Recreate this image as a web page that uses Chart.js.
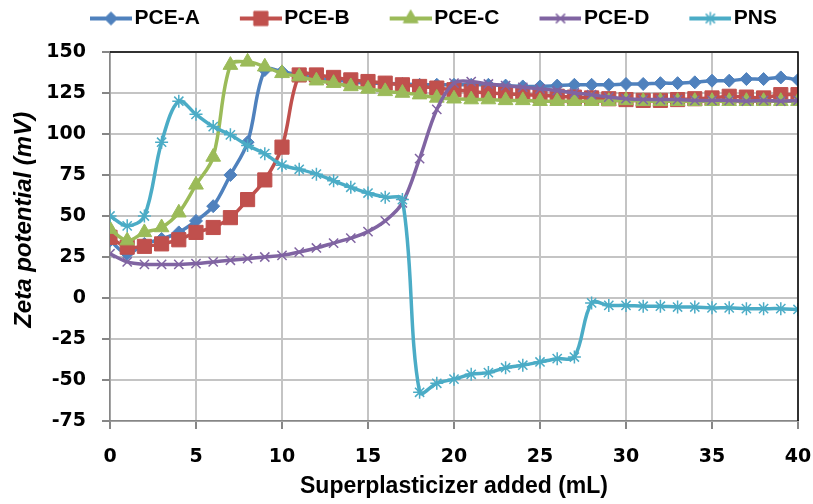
<!DOCTYPE html>
<html>
<head>
<meta charset="utf-8">
<script src="https://cdn.jsdelivr.net/npm/chart.js@4/dist/chart.umd.min.js"></script>
<style>
  body { margin: 0; background: #fff; }
  #wrap { width: 813px; height: 504px; position: relative; }
</style>
</head>
<body>
<div id="wrap"><canvas id="chart"></canvas></div>
<script>
// Data
const xValues = [0,1,2,3,4,5,6,7,8,9,10,11,12,13,14,15,16,17,18,19,20,21,22,23,24,25,26,27,28,29,30,31,32,33,34,35,36,37,38,39,40];
const pceA = [35,27,33,36,40,47,56,75,95,139,138,136,134,133,132,131,131,130.5,130,130,130,130,130,129.5,129,129,129.5,130,130,130,130.5,130.5,131,131,131.5,132.5,132.5,133.5,133.5,134.5,133];
const pceB = [37,31,31.5,33,35.5,40,43,49,60,72,92,136,136,134.5,133,132,131,130,129,128,127,126,125,124.5,124,123.5,123,122.5,122,121.5,121,120.5,120.5,121,121.5,122,123,122.5,122,124,124];
const pceC = [42,35,40,43,52,69,86,142,144,141,137,135,132.5,131,129,127.5,126,125,124,122,121.5,121,121,120.5,120.5,120,120,120,120,120,120.5,120,120,120,120,120,120,120,120,120,120];
const pceD = [27,22,20.5,20.5,20.5,21,22,23,24,25,26,28,30.5,33.5,36.5,40.5,47,58,85,115,131,132,130.5,129.5,128.5,127.5,126.5,125,124,122.5,121.5,121,121,121,120.5,120.5,120.5,120,120.5,120,120.5];
const pns = [50,44,50,95,120,112,104.5,99.5,93,88,81,78.5,75.5,71.5,67.5,64,61.5,60,-57.5,-52,-49.5,-46.5,-45.5,-42.5,-41,-39,-37,-36,-3,-4.5,-4.5,-5,-5,-5.5,-5.5,-6,-6,-6.5,-6.5,-6.5,-7];

const seriesNames = ['PCE-A', 'PCE-B', 'PCE-C', 'PCE-D', 'PNS'];
const seriesValues = [pceA, pceB, pceC, pceD, pns];
const seriesColors = ['#4F81BD', '#C0504D', '#9BBB59', '#8064A2', '#4BACC6'];
const seriesMarkers = ['rectRot', 'rect', 'triangle', 'crossRot', 'star'];
const markerSizes = [6.5, 10, 8.5, 6.5, 6.5];

const FONT = "'Liberation Sans', Arial, sans-serif";
const TICK_FONT = "'DejaVu Sans', sans-serif";

// legend icon: line with the series marker in the middle, left part left blank
function legendIcon(i) {
    const c = document.createElement('canvas');
    c.width = 88;
    c.height = 20;
    const ctx = c.getContext('2d');
    ctx.strokeStyle = seriesColors[i];
    ctx.fillStyle = seriesColors[i];
    ctx.lineWidth = 4;
    ctx.beginPath();
    ctx.moveTo(46, 10);
    ctx.lineTo(88, 10);
    ctx.stroke();
    const bw = (seriesMarkers[i] === 'crossRot' || seriesMarkers[i] === 'star') ? 1.5 : 1;
    ctx.lineWidth = bw;
    Chart.helpers.drawPoint(ctx, {pointStyle: seriesMarkers[i], radius: markerSizes[i], rotation: 0, borderWidth: bw}, 67, 10);
    return c;
}

const datasets = seriesNames.map((name, i) => ({
    label: name,
    data: xValues.map((x, j) => ({x: x, y: seriesValues[i][j]})),
    borderColor: seriesColors[i],
    backgroundColor: seriesColors[i],
    borderWidth: 3.5,
    tension: 0.35,
    pointStyle: seriesMarkers[i],
    pointRadius: markerSizes[i],
    pointBorderWidth: (seriesMarkers[i] === 'crossRot' || seriesMarkers[i] === 'star') ? 1.5 : 1,
    order: 5 - i
}));

// fixed legend height, and the top/right border of the plot area
const frame = {
    id: 'frame',
    beforeLayout(chart) {
        if (chart.legend && !chart.legend._patched) {
            const fit = chart.legend.fit;
            chart.legend.fit = function () {
                fit.call(this);
                this.height = 46;
            };
            chart.legend._patched = true;
        }
    },
    afterDraw(chart) {
        const a = chart.chartArea;
        const ctx = chart.ctx;
        ctx.save();
        ctx.strokeStyle = '#000';
        ctx.lineWidth = 1.5;
        ctx.beginPath();
        ctx.moveTo(a.left, a.top);
        ctx.lineTo(a.right, a.top);
        ctx.lineTo(a.right, a.bottom);
        ctx.stroke();
        ctx.restore();
    }
};

new Chart(document.getElementById('chart'), {
    type: 'line',
    data: { datasets: datasets },
    options: {
        responsive: true,
        maintainAspectRatio: false,
        animation: false,
        layout: { padding: { top: 6, right: 2, left: 18, bottom: 0 } },
        plugins: {
            tooltip: { enabled: false },
            legend: {
                position: 'top',
                labels: {
                    usePointStyle: true,
                    pointStyleWidth: 72,
                    padding: 2,
                    color: '#000',
                    font: { family: FONT, size: 21, weight: 'bold' },
                    generateLabels: () => seriesNames.map((name, i) => ({
                        text: name,
                        pointStyle: legendIcon(i),
                        fillStyle: seriesColors[i],
                        strokeStyle: seriesColors[i],
                        lineWidth: 0,
                        datasetIndex: i
                    }))
                }
            }
        },
        scales: {
            x: {
                type: 'linear',
                min: 0,
                max: 40,
                afterFit: s => { s.height = 83; s.paddingRight = 15; s.paddingLeft = 0; },
                ticks: { stepSize: 5, color: '#000', padding: 17, font: { family: TICK_FONT, size: 19, weight: 'bold' } },
                grid: { color: '#C4C4C4', lineWidth: 2, tickLength: 8, tickColor: '#868686' },
                border: { color: '#868686', width: 1.5 },
                title: { display: true, text: 'Superplasticizer added (mL)', color: '#000', padding: { top: 0 }, font: { family: FONT, size: 23, weight: 'bold' } }
            },
            y: {
                min: -75,
                max: 150,
                afterFit: s => { s.width = 92; },
                ticks: { stepSize: 25, color: '#000', padding: 16, font: { family: TICK_FONT, size: 19, weight: 'bold' } },
                grid: { color: '#C4C4C4', lineWidth: 2, tickLength: 8, tickColor: '#868686' },
                border: { color: '#868686', width: 1.5 },
                title: { display: true, text: '     Zeta potential (mV)', color: '#000', padding: { top: -8, bottom: 0 }, font: { family: FONT, size: 24, weight: 'bold', style: 'italic' } }
            }
        }
    },
    plugins: [frame]
});
</script>
</body>
</html>
